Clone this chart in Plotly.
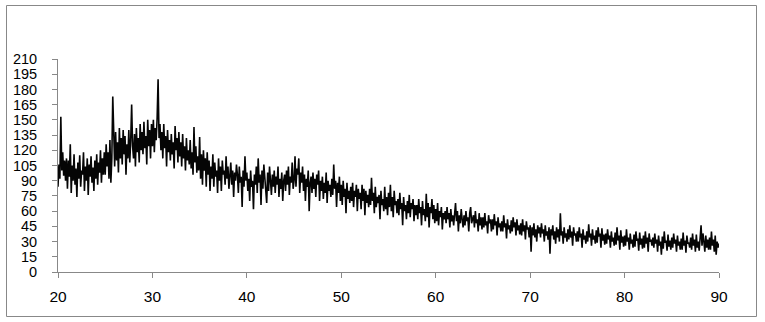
import plotly.graph_objects as go

# Diffraction angle grid (2-theta, degrees), sampled every 0.1 degree
two_theta_start = 20.0
two_theta_step = 0.1

# Intensity readings, one row per degree (20.0 ... 89.9), then the final point at 90.0
intensity_rows = [
    [84, 106, 92, 153, 100, 118, 95, 110, 90, 112],      # 20
    [82, 110, 94, 126, 78, 105, 90, 116, 86, 102],       # 21
    [74, 108, 92, 115, 84, 100, 96, 118, 80, 104],       # 22
    [90, 112, 76, 106, 94, 114, 88, 103, 80, 110],       # 23
    [92, 116, 86, 108, 98, 120, 88, 112, 96, 118],       # 24
    [96, 126, 104, 118, 92, 130, 88, 112, 173, 120],     # 25
    [104, 138, 110, 128, 98, 142, 112, 132, 106, 140],   # 26
    [116, 134, 96, 126, 112, 140, 108, 130, 165, 124],   # 27
    [112, 136, 104, 142, 118, 132, 108, 146, 120, 138],  # 28
    [116, 148, 122, 134, 106, 150, 124, 140, 112, 146],  # 29
    [124, 150, 118, 142, 130, 152, 190, 132, 146, 120],  # 30
    [138, 112, 146, 122, 134, 104, 140, 118, 130, 110],  # 31
    [136, 116, 128, 102, 144, 120, 132, 108, 138, 114],  # 32
    [128, 104, 136, 112, 124, 100, 132, 110, 120, 106],  # 33
    [130, 102, 118, 96, 143, 108, 124, 98, 114, 100],    # 34
    [133, 92, 116, 86, 120, 100, 112, 84, 118, 96],      # 35
    [110, 80, 104, 92, 116, 84, 108, 94, 100, 78],       # 36
    [112, 90, 104, 80, 110, 96, 100, 86, 114, 92],       # 37
    [104, 82, 96, 108, 86, 100, 74, 98, 90, 106],        # 38
    [96, 78, 104, 88, 94, 64, 100, 84, 114, 90],         # 39
    [98, 80, 92, 70, 100, 84, 90, 62, 96, 86],           # 40
    [104, 78, 112, 88, 96, 66, 100, 82, 106, 90],        # 41
    [86, 68, 98, 80, 104, 88, 76, 96, 84, 100],          # 42
    [78, 94, 86, 104, 74, 92, 82, 98, 70, 90],           # 43
    [96, 80, 100, 86, 104, 76, 94, 88, 108, 82],         # 44
    [90, 114, 84, 102, 96, 112, 78, 98, 88, 104],        # 45
    [80, 96, 70, 92, 84, 100, 60, 88, 94, 78],           # 46
    [98, 82, 92, 74, 96, 86, 100, 70, 90, 80],           # 47
    [94, 72, 88, 78, 98, 68, 90, 80, 86, 74],            # 48
    [92, 76, 106, 82, 90, 64, 88, 78, 94, 70],           # 49
    [86, 66, 90, 74, 82, 58, 88, 72, 80, 68],            # 50
    [84, 70, 88, 64, 80, 74, 86, 60, 82, 72],            # 51
    [78, 62, 86, 70, 82, 56, 80, 68, 76, 64],            # 52
    [82, 66, 93, 70, 78, 58, 84, 64, 74, 68],            # 53
    [76, 52, 80, 66, 72, 60, 84, 62, 74, 56],            # 54
    [78, 64, 86, 60, 74, 54, 80, 66, 70, 58],            # 55
    [72, 56, 78, 62, 68, 46, 74, 60, 66, 52],            # 56
    [70, 58, 76, 54, 68, 62, 72, 50, 66, 56],            # 57
    [66, 52, 72, 58, 64, 46, 70, 56, 62, 50],            # 58
    [77, 54, 68, 44, 64, 58, 72, 52, 66, 48],            # 59
    [62, 50, 68, 46, 60, 54, 64, 42, 58, 52],            # 60
    [60, 48, 64, 52, 58, 44, 62, 50, 56, 46],            # 61
    [58, 68, 50, 60, 40, 56, 48, 62, 52, 44],            # 62
    [56, 46, 60, 50, 54, 40, 58, 64, 48, 52],            # 63
    [56, 44, 60, 48, 52, 40, 58, 46, 54, 42],            # 64
    [54, 44, 58, 46, 50, 38, 56, 48, 52, 40],            # 65
    [52, 42, 57, 46, 50, 36, 54, 44, 48, 40],            # 66
    [50, 40, 56, 44, 48, 33, 52, 42, 46, 38],            # 67
    [51, 40, 54, 44, 49, 36, 52, 41, 46, 37],            # 68
    [48, 36, 52, 40, 46, 32, 50, 42, 44, 34],            # 69
    [46, 20, 44, 36, 48, 34, 42, 30, 46, 38],            # 70
    [44, 34, 48, 38, 42, 30, 46, 36, 40, 32],            # 71
    [44, 18, 42, 36, 46, 32, 40, 28, 44, 34],            # 72
    [42, 30, 58, 36, 40, 28, 44, 34, 38, 30],            # 73
    [42, 32, 46, 34, 40, 26, 44, 36, 38, 30],            # 74
    [40, 30, 44, 34, 38, 24, 42, 32, 36, 28],            # 75
    [40, 30, 47, 34, 38, 26, 42, 32, 36, 28],            # 76
    [41, 29, 44, 35, 38, 24, 43, 31, 37, 27],            # 77
    [38, 28, 42, 32, 36, 24, 40, 30, 34, 26],            # 78
    [39, 27, 44, 31, 36, 22, 41, 29, 35, 25],            # 79
    [36, 26, 42, 30, 34, 22, 38, 28, 32, 24],            # 80
    [37, 25, 40, 31, 33, 21, 39, 27, 33, 23],            # 81
    [36, 24, 40, 28, 34, 20, 38, 30, 32, 26],            # 82
    [34, 24, 38, 28, 32, 20, 36, 26, 30, 17],            # 83
    [35, 23, 40, 29, 31, 21, 37, 25, 31, 22],            # 84
    [34, 24, 38, 28, 32, 20, 36, 26, 30, 22],            # 85
    [33, 22, 39, 26, 31, 19, 36, 28, 29, 24],            # 86
    [34, 22, 38, 26, 32, 20, 37, 24, 30, 21],            # 87
    [34, 46, 26, 38, 30, 20, 36, 24, 32, 22],            # 88
    [34, 22, 40, 26, 32, 20, 36, 17, 30, 24],            # 89
    [28],                                                # 90.0
]

intensity = [v for row in intensity_rows for v in row]
two_theta = [round(two_theta_start + two_theta_step * i, 1) for i in range(len(intensity))]

x_tick_values = [20, 30, 40, 50, 60, 70, 80, 90]
y_tick_values = [0, 15, 30, 45, 60, 75, 90, 105, 120, 135, 150, 165, 180, 195, 210]

fig = go.Figure()
fig.add_trace(go.Scatter(
    x=two_theta, y=intensity, mode="lines",
    line=dict(color="#050505", width=1.6),
    showlegend=False, hoverinfo="x+y",
))

W, H = 765, 322
ml, mr, mt, mb = 58, 46, 59, 50
pw, ph = W - ml - mr, H - mt - mb

def px_to_paper_x(px):
    return (px - ml) / pw

def px_to_paper_y(py):
    return (H - mb - py) / ph

tick_font = dict(family="Liberation Sans Narrow, Arial Narrow, sans-serif", size=14.5, color="#000000")

fig.update_layout(
    width=W, height=H,
    margin=dict(l=ml, r=mr, t=mt, b=mb, pad=0),
    paper_bgcolor="white", plot_bgcolor="white",
    xaxis=dict(
        range=[20, 90], tickvals=x_tick_values, ticktext=[str(v) for v in x_tick_values],
        showgrid=False, zeroline=False, showline=True, linecolor="#888888", linewidth=1,
        ticks="outside", ticklen=5, tickcolor="#888888", tickwidth=1,
        tickfont=dict(tick_font, size=15.5),
        ticklabelstandoff=5,
    ),
    yaxis=dict(
        range=[0, 210], tickvals=y_tick_values, ticktext=[str(v) for v in y_tick_values],
        showgrid=False, zeroline=False, showline=True, linecolor="#888888", linewidth=1,
        ticks="outside", ticklen=5, tickcolor="#888888", tickwidth=1,
        tickfont=tick_font,
        ticklabelstandoff=12,
    ),
    shapes=[dict(
        type="rect", xref="paper", yref="paper",
        x0=px_to_paper_x(6.5), x1=px_to_paper_x(756.5),
        y0=px_to_paper_y(316.5), y1=px_to_paper_y(5.5),
        line=dict(color="#888888", width=1), fillcolor="rgba(0,0,0,0)", layer="below",
    )],
)

fig.write_html(
    "out.html",
    config={"displayModeBar": False},
    post_script="document.body.style.margin='0';document.body.style.padding='0';",
)
